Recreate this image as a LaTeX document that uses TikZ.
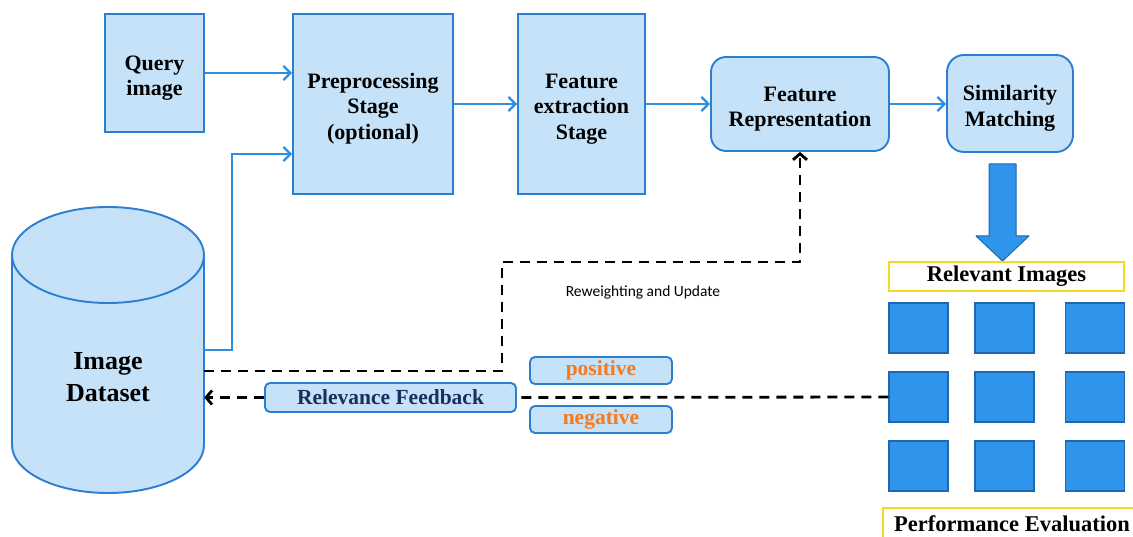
\documentclass[tikz,border=0pt]{standalone}
\usepackage{fontspec}
\setmainfont{Liberation Serif}
\newfontfamily\calib{Carlito}
\usetikzlibrary{arrows.meta}
\definecolor{boxfill}{HTML}{C5E2F8}
\definecolor{boxline}{HTML}{2B7ED0}
\definecolor{arrblue}{HTML}{2E8FE2}
\definecolor{sqfill}{HTML}{2F95EA}
\definecolor{sqline}{HTML}{1D68B0}
\definecolor{ylw}{HTML}{F2DC1E}
\definecolor{navy}{HTML}{1A2F5E}
\definecolor{orng}{HTML}{F47A1E}
\newcommand{\btxt}[1]{\raisebox{-10pt}[0pt][0pt]{\begin{tabular}{@{}c@{}}#1\end{tabular}}}
\begin{document}
\begin{tikzpicture}[x=1pt,y=-1pt,
  box/.style={draw=boxline, fill=boxfill, line width=1.9pt, inner sep=0pt,
    font=\bfseries\fontsize{22}{25.5}\selectfont},
  rbox/.style={box, rounded corners=15pt},
  smallbox/.style={draw=boxline, fill=boxfill, line width=1.9pt, rounded corners=5pt, inner sep=0pt,
    font=\bfseries\fontsize{21.5}{24}\selectfont},
  ybox/.style={draw=ylw, fill=white, line width=2pt, inner sep=0pt,
    font=\bfseries\fontsize{22.5}{25}\selectfont},
  sq/.style={draw=sqline, fill=sqfill, line width=1.5pt, minimum width=59pt, minimum height=50pt, inner sep=0pt},
  arr/.style={draw=arrblue, line width=2.3pt, -{Straight Barb[length=7pt,width=14pt]}},
  dashline/.style={draw=black, line width=2.8pt, dash pattern=on 10pt off 7pt},
  dasharr/.style={dashline, -{Straight Barb[length=6pt,width=14pt]}}
]
\useasboundingbox[fill=white] (0,0) rectangle (1133,537);

% cylinder
\fill[boxfill] (12,255) -- (12,445) arc[start angle=180, end angle=0, x radius=96, y radius=48] -- (204,255) -- cycle;
\draw[boxline, line width=1.9pt] (12,255) -- (12,445) arc[start angle=180, end angle=0, x radius=96, y radius=48] -- (204,255);
\draw[boxline, line width=1.9pt, fill=boxfill] (108,255) ellipse[x radius=96, y radius=48];
\node[minimum width=192pt, minimum height=286pt, inner sep=0pt] (db) at (108,350) {};
\node[align=center, font=\bfseries\fontsize{26}{32}\selectfont] (dbt) at (108,377) {Image\\Dataset};

% top row
\node[box, minimum width=99pt, minimum height=118pt] (q) at (154.5,73) {\btxt{Query\\image}};
\node[box, minimum width=160pt, minimum height=180pt] (pre) at (373,104) {\btxt{Preprocessing\\Stage\\(optional)}};
\node[box, minimum width=127pt, minimum height=180pt] (fe) at (581.5,104) {\btxt{Feature\\extraction\\Stage}};
\node[rbox, minimum width=178pt, minimum height=94pt] (fr) at (800,104) {\btxt{Feature\\Representation}};
\node[rbox, rounded corners=17pt, minimum width=126pt, minimum height=97pt] (sim) at (1010,103.5) {\btxt{Similarity\\Matching}};

\draw[arr] (q.east) -- (q.east -| pre.west);
\draw[arr] (pre.east |- fe.west) -- (fe.west);
\draw[arr] (fe.east) -- (fr.west);
\draw[arr] (fr.east) -- (fr.east -| sim.west);
\draw[arr] (db.east) -- ++(28,0) |- ([yshift=-50pt]pre.west);

% big arrow
\filldraw[fill=sqfill, draw=sqline, line width=1pt, line join=round]
  (989,164) -- (1016,164) -- (1016,236) -- (1029,236) -- (1002.5,261) -- (976,236) -- (989,236) -- cycle;

% relevant images
\node[ybox, minimum width=235pt, minimum height=29pt] (rel) at (1006.5,276.5) {Relevant Images};
\foreach \r/\yy in {1/328,2/397,3/466}{
  \node[sq] (s\r1) at (918.5,\yy) {};
  \node[sq] (s\r2) at (1004.5,\yy) {};
  \node[sq] (s\r3) at (1095,\yy) {};
}
\node[ybox, minimum width=258pt, minimum height=32pt] (pe) at (1012,524) {Performance Evaluation};

% feedback
\node[smallbox, minimum width=251pt, minimum height=29pt, text=navy] (rf) at (390.5,397.5) {Relevance Feedback};
\node[smallbox, minimum width=142pt, minimum height=27pt, text=orng] (pos) at (601,370.5) {positive};
\node[smallbox, minimum width=142pt, minimum height=27pt, text=orng] (neg) at (601,419.5) {negative};

\coordinate (bend) at (502,262);
\draw[dasharr] ([yshift=-21pt]db.east) -| (bend) -| (fr.south);
\node[font=\calib\fontsize{15.5}{18}\selectfont] (rw) at (643,292) {Reweighting and Update};

\draw[dashline] (s21.west) -- (rf.east);
\draw[dasharr] (rf.west) -- (rf.west -| db.east);
\end{tikzpicture}
\end{document}
